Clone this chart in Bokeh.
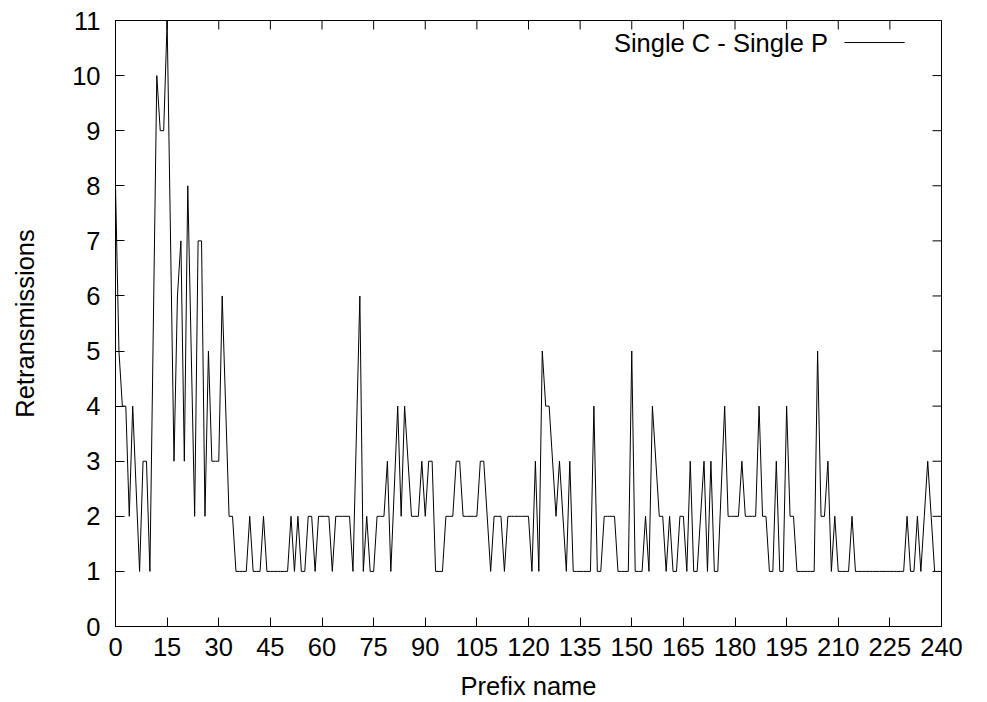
from bokeh.plotting import figure
from bokeh.models import Range1d, FixedTicker, Label, Arrow
from bokeh.embed import file_html
from bokeh.resources import INLINE

# Data (prefix index -> retransmissions)
prefix = [0, 1, 2, 3, 4, 5, 7, 8, 9, 10, 12, 13, 14, 15, 17, 18, 19, 20, 21, 23,
          24, 25, 26, 27, 28, 29, 30, 31, 33, 34, 35, 36, 37, 38, 39, 40, 41, 42, 43, 44,
          45, 46, 47, 48, 49, 50, 51, 52, 53, 54, 55, 56, 57, 58, 59, 60, 61, 62, 63, 64,
          65, 66, 67, 68, 69, 71, 72, 73, 74, 75, 76, 77, 78, 79, 80, 82, 83, 84, 86, 87,
          88, 89, 90, 91, 92, 93, 94, 95, 96, 97, 98, 99, 100, 101, 102, 103, 104, 105, 106, 107,
          109, 110, 111, 112, 113, 114, 115, 116, 117, 118, 119, 120, 121, 122, 123, 124, 125, 126, 128, 129,
          131, 132, 133, 134, 135, 136, 137, 138, 139, 140, 141, 142, 143, 144, 145, 146, 147, 148, 149, 150,
          151, 152, 153, 154, 155, 156, 158, 159, 160, 161, 162, 163, 164, 165, 166, 167, 168, 169, 171, 172,
          173, 174, 175, 177, 178, 179, 180, 181, 182, 183, 184, 185, 186, 187, 188, 189, 190, 191, 192, 193,
          194, 195, 196, 197, 198, 199, 200, 201, 202, 203, 204, 205, 206, 207, 208, 209, 210, 211, 212, 213,
          214, 215, 216, 217, 218, 219, 220, 221, 222, 223, 224, 225, 226, 227, 228, 229, 230, 231, 232, 233,
          234, 235, 236, 237, 238]
retransmissions = [8, 5, 4, 4, 2, 4, 1, 3, 3, 1, 10, 9, 9, 11, 3, 6, 7, 3, 8, 2,
                   7, 7, 2, 5, 3, 3, 3, 6, 2, 2, 1, 1, 1, 1, 2, 1, 1, 1, 2, 1,
                   1, 1, 1, 1, 1, 1, 2, 1, 2, 1, 1, 2, 2, 1, 2, 2, 2, 2, 1, 2,
                   2, 2, 2, 2, 1, 6, 1, 2, 1, 1, 2, 2, 2, 3, 1, 4, 2, 4, 2, 2,
                   2, 3, 2, 3, 3, 1, 1, 1, 2, 2, 2, 3, 3, 2, 2, 2, 2, 2, 3, 3,
                   1, 2, 2, 2, 1, 2, 2, 2, 2, 2, 2, 2, 1, 3, 1, 5, 4, 4, 2, 3,
                   1, 3, 1, 1, 1, 1, 1, 1, 4, 1, 1, 2, 2, 2, 2, 1, 1, 1, 1, 5,
                   1, 1, 1, 2, 1, 4, 2, 2, 1, 2, 1, 1, 2, 2, 1, 3, 1, 1, 3, 1,
                   3, 1, 1, 4, 2, 2, 2, 2, 3, 2, 2, 2, 2, 4, 2, 2, 1, 1, 3, 1,
                   1, 4, 2, 2, 1, 1, 1, 1, 1, 1, 5, 2, 2, 3, 1, 2, 1, 1, 1, 1,
                   2, 1, 1, 1, 1, 1, 1, 1, 1, 1, 1, 1, 1, 1, 1, 1, 2, 1, 1, 2,
                   1, 2, 3, 2, 1]

x_ticks = list(range(0, 241, 15))
y_ticks = list(range(0, 12))
series_name = "Single C - Single P"
x_title = "Prefix name"
y_title = "Retransmissions"

FONT = "Liberation Sans"
FS = "25.5px"
X_MIN, X_MAX, Y_MIN, Y_MAX = 0, 240, 0, 11

p = figure(width=987, height=702, x_range=Range1d(X_MIN, X_MAX), y_range=Range1d(Y_MIN, Y_MAX),
           output_backend="svg", toolbar_location=None,
           min_border_left=115, min_border_right=46, min_border_top=20, min_border_bottom=76)
p.xgrid.visible = False
p.ygrid.visible = False
p.outline_line_color = "black"
p.outline_line_width = 1
p.background_fill_color = "white"
p.border_fill_color = "white"

p.line(prefix, retransmissions, line_color="black", line_width=1)

for ax, ticks in ((p.xaxis[0], x_ticks), (p.yaxis[0], y_ticks)):
    ax.ticker = FixedTicker(ticks=ticks)
    ax.major_tick_in = 9
    ax.major_tick_out = 0
    ax.minor_tick_line_color = None
    ax.axis_line_color = "black"
    ax.major_tick_line_color = "black"
    ax.major_label_text_font = FONT
    ax.major_label_text_font_size = FS
    ax.major_label_text_color = "black"
    ax.axis_label_text_font = FONT
    ax.axis_label_text_font_size = FS
    ax.axis_label_text_font_style = "normal"
    ax.axis_label_text_color = "black"

p.xaxis[0].major_label_standoff = 11
p.yaxis[0].major_label_standoff = 15
p.xaxis[0].axis_label = x_title
p.yaxis[0].axis_label = y_title
p.xaxis[0].axis_label_standoff = 13
p.yaxis[0].axis_label_standoff = 30

# mirrored inward ticks on the top and right frame edges (half of each dash is clipped by the frame)
p.scatter(x=x_ticks, y=[Y_MAX] * len(x_ticks), marker="dash", size=18, angle=1.5707963,
          line_color="black", line_width=1)
p.scatter(x=[X_MAX] * len(y_ticks), y=y_ticks, marker="dash", size=18,
          line_color="black", line_width=1)

# key (text followed by line sample, as in the reference)
p.add_layout(Label(x=207, y=10.6, text=series_name, text_align="right", text_baseline="middle",
                   text_font=FONT, text_font_size=FS, text_color="black"))
p.add_layout(Arrow(start=None, end=None, x_start=211.8, y_start=10.6, x_end=229.3, y_end=10.6,
                   line_color="black", line_width=1))

open("out.html", "w").write(file_html(p, INLINE))
